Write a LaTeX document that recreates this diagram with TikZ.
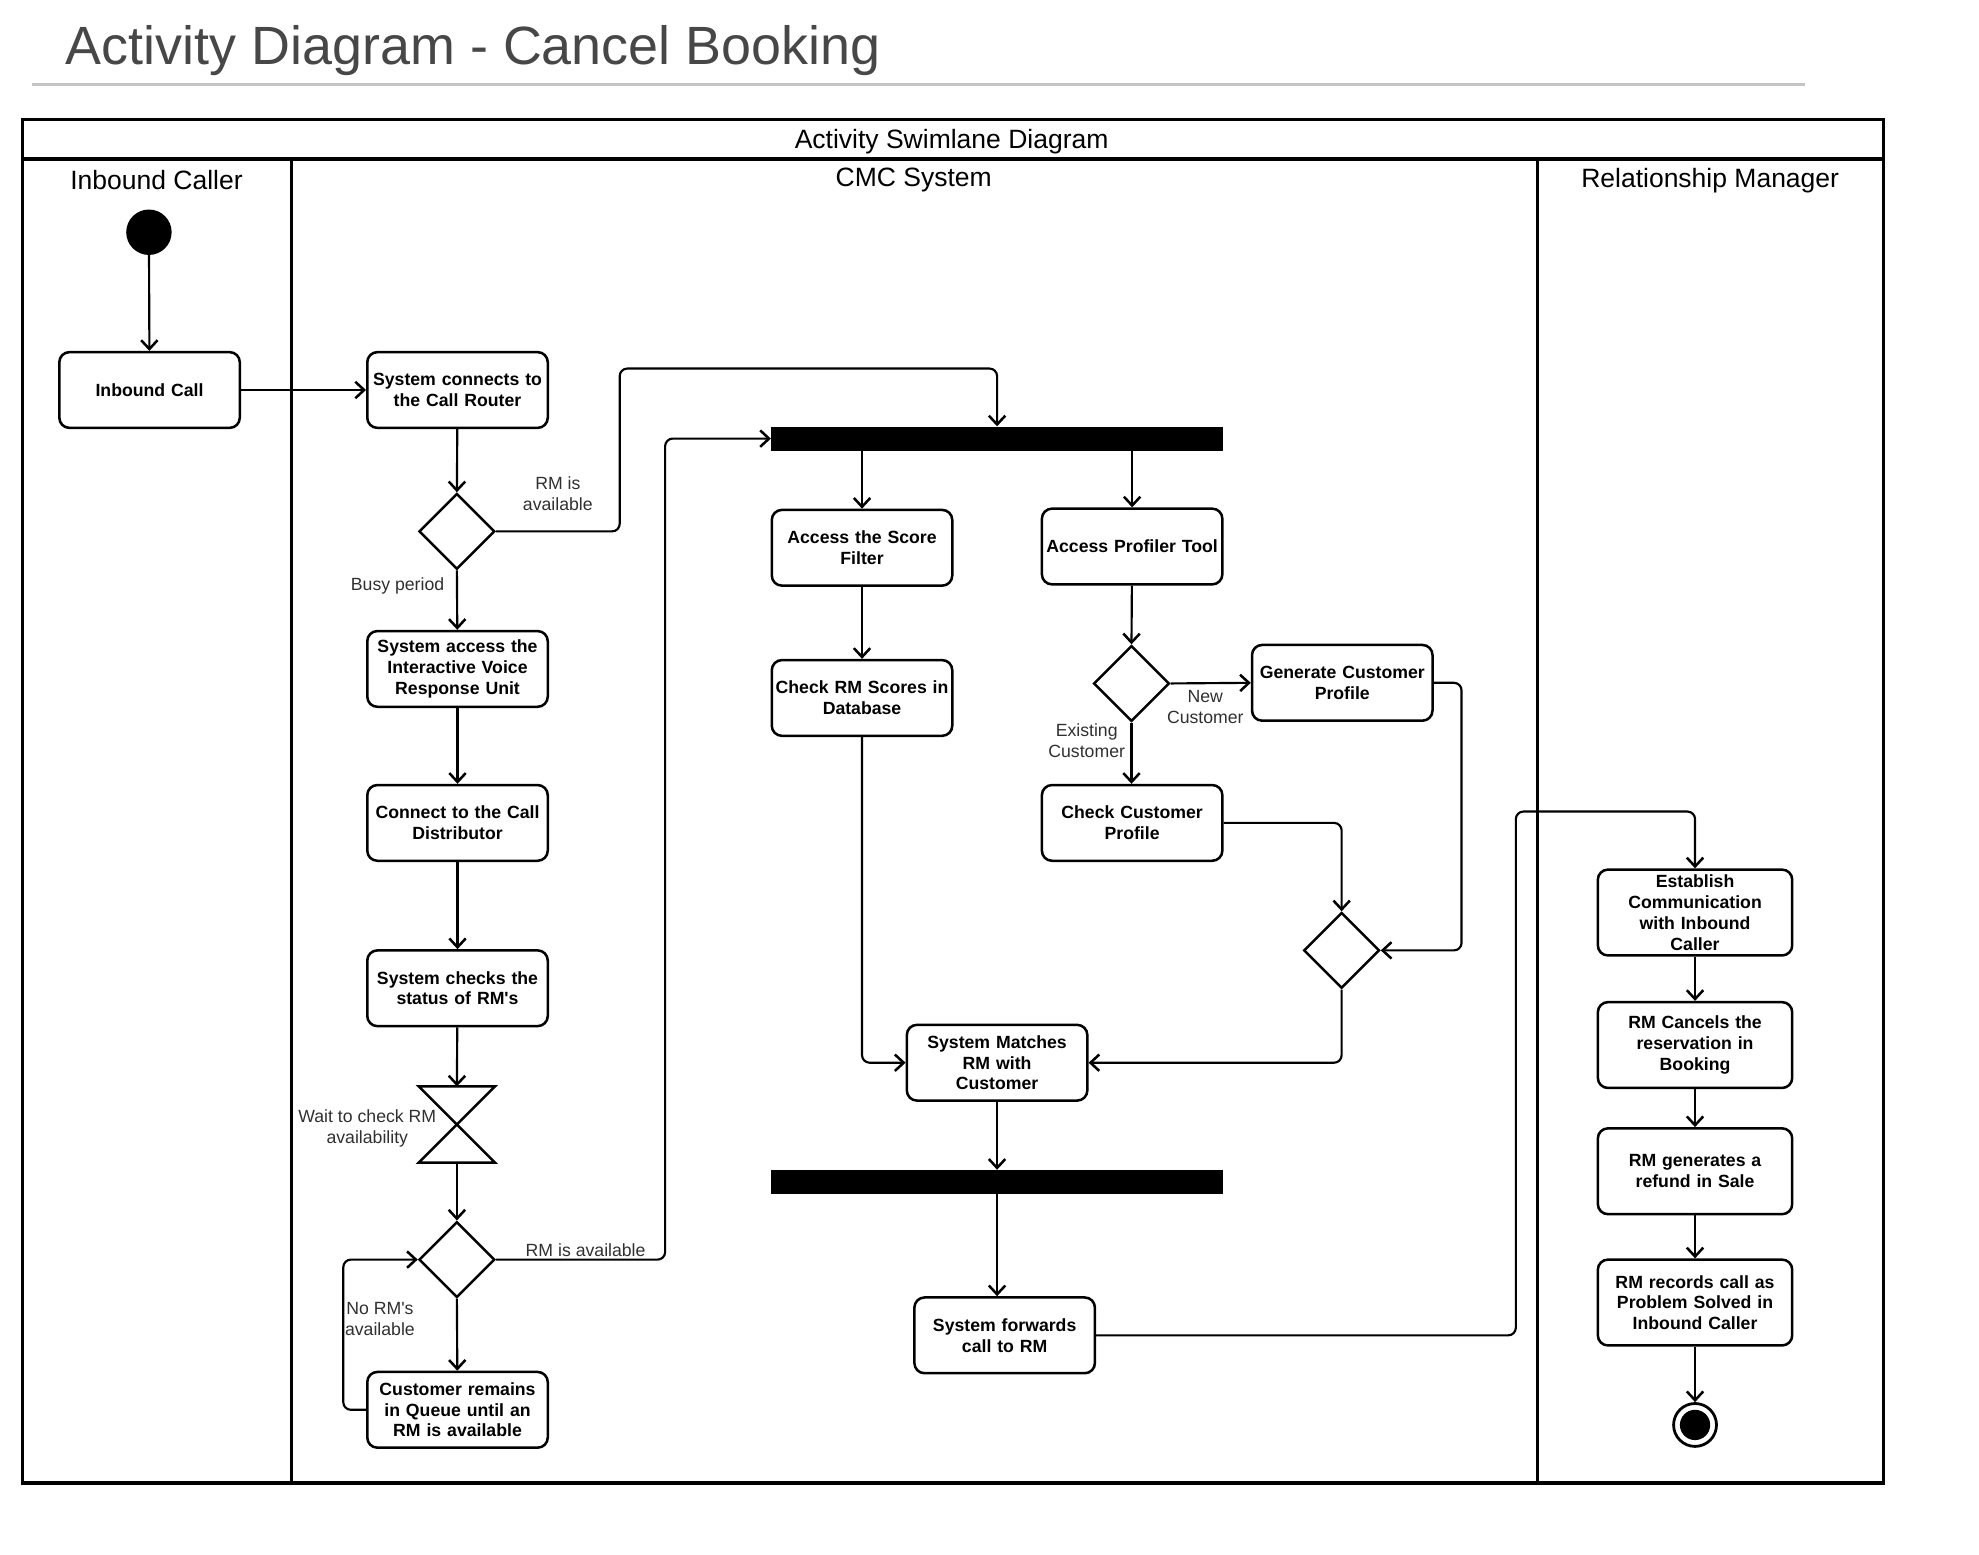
\documentclass[tikz,border=0pt]{standalone}
\usepackage{fontspec}
\setmainfont{Liberation Sans}
\usetikzlibrary{shapes.geometric,arrows.meta}

\definecolor{titlegray}{HTML}{474747}
\definecolor{rulegray}{HTML}{C4C4C4}
\definecolor{labelgray}{HTML}{303030}

\begin{document}
\begin{tikzpicture}[x=1pt,y=-1pt,
  act/.style={draw,line width=2pt,rounded corners=8pt,minimum width=143pt,
    minimum height=60pt,inner sep=0pt,text width=142pt,align=center,
    font=\bfseries\fontsize{14}{16.5}\selectfont},
  tallact/.style={act,minimum width=154pt,minimum height=68pt,text width=150pt},
  dec/.style={diamond,draw,line width=2pt,minimum width=60pt,minimum height=60pt,
    inner sep=0pt,aspect=1},
  forkbar/.style={fill=black,draw=none,minimum width=358pt,minimum height=19pt,inner sep=0pt},
  flow/.style={line width=1.7pt,rounded corners=6pt,
    -{Straight Barb[length=7pt,width=13pt,line width=2pt]}},
  lbl/.style={inner sep=0pt,align=center,text=labelgray,
    font=\fontsize{14}{16.5}\selectfont},
  lane/.style={line width=2.5pt},
  lanehead/.style={inner sep=0pt,font=\fontsize{21}{25}\selectfont}]

\useasboundingbox (0,0) rectangle (1568,1232);

% page title and rule
\node[anchor=base west,inner sep=0pt,text=titlegray,font=\fontsize{42.7}{50}\selectfont]
  (title) at (52,51) {Activity Diagram - Cancel Booking};
\draw[rulegray,line width=2.5pt] (25,67) -- (1430,67);

% swimlane frame
\draw[lane] (18,95) rectangle (1492,1175);
\draw[lane] (18,126) -- (1492,126);
\draw[lane] (231,126) -- (231,1175);
\draw[lane] (1218,126) -- (1218,1175);
\node[lanehead] (pool) at (754,112) {Activity Swimlane Diagram};
\node[lanehead] (laneA) at (124,143) {Inbound Caller};
\node[lanehead] (laneB) at (724,143) {CMC System};
\node[lanehead] (laneC) at (1355,143) {Relationship Manager};

% Inbound Caller lane
\node[circle,fill=black,minimum size=36pt,inner sep=0pt] (start) at (118,184) {};
\node[act] (call) at (118.5,309) {Inbound Call};

% CMC System lane, left column
\node[act] (router) at (362.5,309) {System connects to\\the Call Router};
\node[dec] (d1) at (362,421) {};
\node[act] (ivr) at (362.5,530) {System access the\\Interactive Voice\\Response Unit};
\node[act] (dist) at (362.5,652) {Connect to the Call\\Distributor};
\node[act] (status) at (362.5,783) {System checks the\\status of RM\textquotesingle s};
\node[minimum width=60pt,minimum height=60pt,inner sep=0pt] (wait) at (362,891) {};
\draw[line width=2pt,line join=miter] (wait.north west) -- (wait.north east)
  -- (wait.south west) -- (wait.south east) -- cycle;
\node[dec] (d2) at (362,998) {};
\node[act] (queue) at (362.5,1117) {Customer remains\\in Queue until an\\RM is available};

% CMC System lane, matching
\node[forkbar] (fork1) at (790,347.5) {};
\node[act] (score) at (683,434) {Access the Score\\Filter};
\node[act] (profiler) at (897,433) {Access Profiler Tool};
\node[act] (rmscores) at (683,553) {Check RM Scores in\\Database};
\node[dec] (d3) at (896.5,541.5) {};
\node[act] (gen) at (1063.5,541) {Generate Customer\\Profile};
\node[act] (ccp) at (897,652) {Check Customer\\Profile};
\node[dec] (d4) at (1063,753) {};
\node[act] (match) at (790,842) {System Matches\\RM with\\Customer};
\node[forkbar] (fork2) at (790,936.5) {};
\node[act] (fwd) at (796,1058) {System forwards\\call to RM};

% Relationship Manager lane
\node[tallact] (est) at (1343,723) {Establish\\Communication\\with Inbound\\Caller};
\node[tallact] (cancel) at (1343,828) {RM Cancels the\\reservation in\\Booking};
\node[tallact] (refund) at (1343,928) {RM generates a\\refund in Sale};
\node[tallact] (record) at (1343,1032) {RM records call as\\Problem Solved in\\Inbound Caller};
\node[circle,draw,line width=2.2pt,minimum size=34pt,inner sep=0pt] (finish) at (1343,1129) {};
\node[circle,fill=black,minimum size=24pt,inner sep=0pt] (finishdot) at (finish.center) {};

% flows
\draw[flow] (start) -- (call);
\draw[flow] (call) -- (router);
\draw[flow] (router) -- (d1.north);
\draw[flow] (d1.east) -- (491,421) |- (790,292) -- (fork1.north);
\draw[flow] (d1.south) -- (ivr);
\draw[flow] (ivr) -- (dist);
\draw[flow] (dist) -- (status);
\draw[flow] (status) -- (wait.north);
\draw[flow] (wait.south) -- (d2.north);
\draw[flow] (d2.east) -- (527,998) |- (fork1.west);
\draw[flow] (d2.south) -- (queue);
\draw[flow] (queue.west) -- (272,1117) |- (d2.west);

\draw[flow] (fork1.south -| score.north) -- (score);
\draw[flow] (fork1.south -| profiler.north) -- (profiler);
\draw[flow] (score) -- (rmscores);
\draw[flow] (rmscores.south) |- (match.west);
\draw[flow] (profiler) -- (d3.north);
\draw[flow] (d3.east) -- (gen.west);
\draw[flow] (d3.south) -- (ccp.north -| d3.south);
\draw[flow] (ccp.east) -| (d4.north);
\draw[flow] (gen.east) -- (1158,541) |- (d4.east);
\draw[flow] (d4.south) |- (match.east);
\draw[flow] (match) -- (fork2.north);
\draw[flow] (fork2.south) -- (fork2.south |- fwd.north);
\draw[flow] (fwd.east) -- (1201,1058) |- (1343,643) -- (est.north);

\draw[flow] (est) -- (cancel);
\draw[flow] (cancel) -- (refund);
\draw[flow] (refund) -- (record);
\draw[flow] (record) -- (finish);

% guard labels
\node[lbl] (g1) at (442,391) {RM is\\available};
\node[lbl] (g2) at (315,464.5) {Busy period};
\node[lbl] (g3) at (291,894) {Wait to check RM\\availability};
\node[lbl] (g4) at (464,990.5) {RM is available};
\node[lbl] (g5) at (301,1045) {No RM\textquotesingle s\\available};
\node[lbl] (g6) at (955,560) {New\\Customer};
\node[lbl] (g7) at (861,587) {Existing\\Customer};

\end{tikzpicture}
\end{document}
